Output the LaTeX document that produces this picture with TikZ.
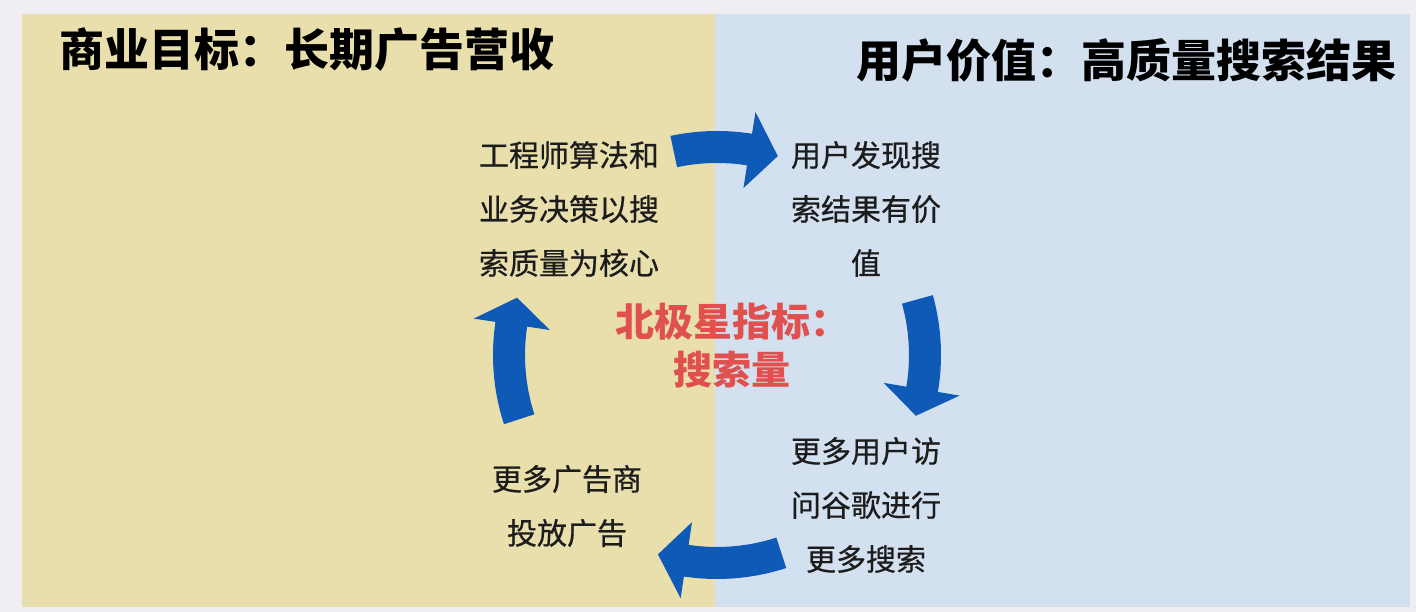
\documentclass[tikz,border=0pt]{standalone}
\usepackage{fontspec}
\newfontfamily\cjk{Noto Sans CJK SC}
\newfontfamily\cjkmid[FakeBold=0.6]{Noto Sans CJK SC}
\usetikzlibrary{positioning}

\definecolor{pagebg}{HTML}{F0EEF2}
\definecolor{bizbg}{HTML}{E9DFAD}
\definecolor{userbg}{HTML}{D3E0F0}
\definecolor{flowblue}{HTML}{0F5AB6}
\definecolor{starred}{HTML}{E0504E}
\definecolor{inkdark}{HTML}{1C1C1C}

% one block arrow on the cycle: tail angle, head base angle, tip angle
\newcommand\cyclearrow[3]{%
  \begin{scope}[shift={(hub)}]
    \fill[flowblue] (#1:224pt) arc[start angle=#1, end angle=#2, radius=224pt]
      -- (#2:246pt) -- (#3:208pt) -- (#2:169pt) -- (#2:192pt)
      arc[start angle=#2, end angle=#1, radius=192pt] -- cycle;
  \end{scope}}

\begin{document}
\begin{tikzpicture}[
    x=1pt, y=1pt,
    title/.style={font=\cjk\bfseries\fontsize{45}{54}\selectfont, text=black, inner sep=0pt},
    stage/.style={font=\cjkmid\fontsize{30}{54}\selectfont, text=inkdark, align=center, inner sep=0pt},
    star/.style={font=\cjk\bfseries\fontsize{39}{48}\selectfont, text=starred, align=center, inner sep=0pt}
  ]
    \useasboundingbox (0,0) rectangle (1416,612);
    \fill[pagebg] (0,0) rectangle (1416,612);
    \fill[bizbg] (22,5) rectangle (715,598);
    \fill[userbg] (715,5) rectangle (1410,598);

    \node[title, anchor=west] (biz) at (59,562) {商业目标：长期广告营收};
    \node[title, anchor=east] (uservalue) at (1397,552) {用户价值：高质量搜索结果};

    \coordinate (hub) at (717,257);
    \node[stage] (engineers) at (569,403) {工程师算法和\\业务决策以搜\\索质量为核心};
    \node[stage] (finds) at (866,403) {用户发现搜\\索结果有价\\值};
    \node[stage] (visits) at (866,107) {更多用户访\\问谷歌进行\\更多搜索};
    \node[stage] (advertisers) at (567,106) {更多广告商\\投放广告};
    \node[star] (northstar) at (732,266) {北极星指标：\\搜索量};

    \cyclearrow{102}{81}{73}
    \cyclearrow{15.5}{-9.5}{-17}
    \cyclearrow{-72}{-98.5}{-106.5}
    \cyclearrow{198}{171.5}{164}
  \end{tikzpicture}
\end{document}
